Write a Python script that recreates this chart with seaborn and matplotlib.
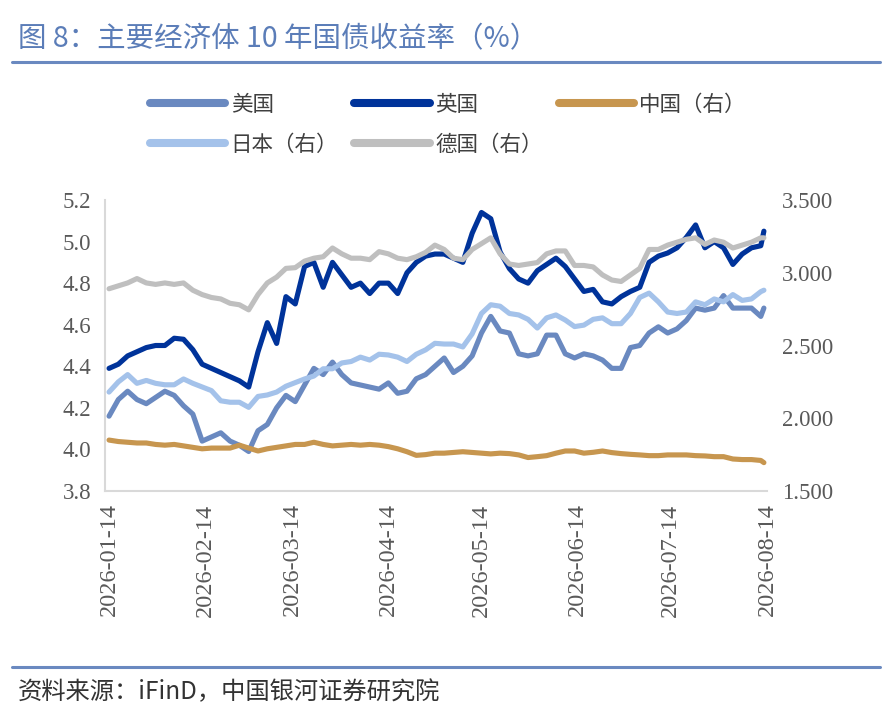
import numpy as np
import pandas as pd
import matplotlib
matplotlib.use("Agg")
import matplotlib.pyplot as plt
import matplotlib.dates as mdates
from matplotlib.lines import Line2D
import seaborn as sns

# ---------------- data ----------------
start_date = "2026-01-14"
day_offsets = list(range(0, 211, 3)) + [211]

us = [4.16, 4.24, 4.28, 4.24, 4.22, 4.25, 4.28, 4.26, 4.21, 4.17,
      4.04, 4.06, 4.08, 4.04, 4.02, 3.99, 4.09, 4.12, 4.20, 4.26,
      4.23, 4.31, 4.39, 4.36, 4.42, 4.36, 4.32, 4.31, 4.30, 4.29,
      4.32, 4.27, 4.28, 4.34, 4.36, 4.40, 4.44, 4.37, 4.40, 4.45,
      4.56, 4.64, 4.57, 4.56, 4.46, 4.45, 4.46, 4.55, 4.55, 4.46,
      4.44, 4.46, 4.45, 4.43, 4.39, 4.39, 4.49, 4.50, 4.56, 4.59,
      4.56, 4.58, 4.62, 4.68, 4.67, 4.68, 4.74, 4.68, 4.68, 4.68,
      4.64, 4.68]

uk = [4.39, 4.41, 4.45, 4.47, 4.49, 4.50, 4.50, 4.535, 4.53, 4.48,
      4.41, 4.39, 4.37, 4.35, 4.33, 4.30, 4.47, 4.61, 4.51, 4.735,
      4.70, 4.88, 4.90, 4.78, 4.90, 4.84, 4.78, 4.80, 4.75, 4.80,
      4.80, 4.75, 4.85, 4.90, 4.93, 4.94, 4.94, 4.92, 4.90, 5.04,
      5.14, 5.11, 4.95, 4.87, 4.82, 4.80, 4.86, 4.89, 4.92, 4.88,
      4.82, 4.76, 4.77, 4.71, 4.70, 4.735, 4.76, 4.78, 4.90, 4.93,
      4.945, 4.97, 5.02, 5.08, 4.97, 5.00, 4.97, 4.89, 4.94, 4.97,
      4.98, 5.05]

china = [1.85, 1.84, 1.835, 1.83, 1.83, 1.82, 1.815, 1.82, 1.81, 1.80,
         1.79, 1.795, 1.795, 1.795, 1.815, 1.795, 1.775, 1.79, 1.80, 1.81,
         1.82, 1.82, 1.835, 1.82, 1.81, 1.815, 1.82, 1.815, 1.82, 1.815,
         1.805, 1.79, 1.77, 1.745, 1.75, 1.76, 1.76, 1.765, 1.77, 1.765,
         1.76, 1.755, 1.76, 1.757, 1.748, 1.73, 1.736, 1.743, 1.76, 1.775,
         1.775, 1.76, 1.766, 1.775, 1.764, 1.757, 1.752, 1.748, 1.743, 1.743,
         1.748, 1.748, 1.748, 1.743, 1.741, 1.736, 1.736, 1.72, 1.716, 1.716,
         1.71, 1.695]

japan = [2.18, 2.25, 2.30, 2.24, 2.26, 2.24, 2.23, 2.23, 2.27, 2.24,
         2.215, 2.19, 2.12, 2.11, 2.11, 2.075, 2.15, 2.16, 2.18, 2.22,
         2.245, 2.27, 2.29, 2.34, 2.34, 2.38, 2.39, 2.42, 2.40, 2.44,
         2.435, 2.42, 2.39, 2.44, 2.47, 2.515, 2.51, 2.51, 2.49, 2.58,
         2.72, 2.78, 2.77, 2.72, 2.71, 2.68, 2.62, 2.69, 2.71, 2.675,
         2.63, 2.64, 2.68, 2.69, 2.65, 2.65, 2.72, 2.83, 2.86, 2.80,
         2.73, 2.72, 2.73, 2.80, 2.78, 2.82, 2.80, 2.85, 2.81, 2.82,
         2.87, 2.88]

germany = [2.89, 2.91, 2.93, 2.96, 2.93, 2.92, 2.93, 2.92, 2.93, 2.88,
           2.85, 2.83, 2.82, 2.79, 2.78, 2.745, 2.85, 2.93, 2.97, 3.03,
           3.035, 3.08, 3.10, 3.11, 3.17, 3.13, 3.10, 3.10, 3.09, 3.145,
           3.13, 3.10, 3.09, 3.11, 3.14, 3.19, 3.16, 3.10, 3.09, 3.16,
           3.20, 3.24, 3.13, 3.06, 3.05, 3.06, 3.07, 3.13, 3.15, 3.15,
           3.05, 3.05, 3.04, 2.985, 2.95, 2.94, 2.985, 3.03, 3.16, 3.16,
           3.19, 3.21, 3.23, 3.24, 3.195, 3.225, 3.21, 3.17, 3.19, 3.21,
           3.24, 3.24]

series_names = ["美国", "英国", "中国（右）", "日本（右）", "德国（右）"]
tick_labels = ["2026-01-14", "2026-02-14", "2026-03-14", "2026-04-14",
               "2026-05-14", "2026-06-14", "2026-07-14", "2026-08-14"]
left_ticks = [3.8, 4.0, 4.2, 4.4, 4.6, 4.8, 5.0, 5.2]
right_ticks = [1.5, 2.0, 2.5, 3.0, 3.5]

title = "图 8：主要经济体 10 年国债收益率（%）"
source = "资料来源：iFinD，中国银河证券研究院"

colors = {"美国": "#6A89C0", "英国": "#00339A", "中国（右）": "#C7964F",
          "日本（右）": "#A4C2EA", "德国（右）": "#BFBFBF"}

# ---------------- build frame ----------------
dates = pd.Timestamp(start_date) + pd.to_timedelta(day_offsets, unit="D")
df = pd.DataFrame({"date": dates, "美国": us, "英国": uk, "中国（右）": china,
                   "日本（右）": japan, "德国（右）": germany})

sns.set_theme(style="white")
plt.rcParams["font.family"] = ["Noto Sans CJK SC", "DejaVu Sans"]

W, H = 894, 726
fig = plt.figure(figsize=(W / 100, H / 100), dpi=100)
ax = fig.add_axes([105 / W, 1 - 491 / H, (767 - 105) / W, (491 - 200) / H])
ax2 = ax.twinx()

LW = 3.7
for name in ["美国", "英国"]:
    sns.lineplot(data=df, x="date", y=name, ax=ax, color=colors[name],
                 linewidth=LW, label=name, legend=False)
for name in ["中国（右）", "日本（右）", "德国（右）"]:
    sns.lineplot(data=df, x="date", y=name, ax=ax2, color=colors[name],
                 linewidth=LW, label=name, legend=False)

# axes limits & ticks
tick_dates = pd.to_datetime(tick_labels)
ax.set_xlim(pd.Timestamp(start_date) - pd.Timedelta(days=1.3), tick_dates[-1])
ax.set_ylim(left_ticks[0], left_ticks[-1])
ax2.set_ylim(right_ticks[0], right_ticks[-1])
ax.set_xticks(tick_dates)
ax.set_xticklabels(tick_labels, rotation=90)
ax.set_yticks(left_ticks)
ax.set_yticklabels([f"{v:.1f}" for v in left_ticks])
ax2.set_yticks(right_ticks)
ax2.set_yticklabels([f"{v:.3f}" for v in right_ticks])
ax.set_xlabel("")
ax.set_ylabel("")
ax2.set_ylabel("")

for lab in ax.get_xticklabels():
    lab.set_fontfamily("Liberation Serif")
    lab.set_fontsize(17.5)
    lab.set_color("#595959")
for lab in ax.get_yticklabels() + ax2.get_yticklabels():
    lab.set_fontfamily("Liberation Serif")
    lab.set_fontsize(16.5)
    lab.set_color("#595959")

ax.tick_params(axis="x", length=0, pad=9)
ax.tick_params(axis="y", length=0, pad=10)
ax2.tick_params(axis="y", length=0, pad=11)
ax.grid(False)
ax2.grid(False)

for sp in ["top", "right"]:
    ax.spines[sp].set_visible(False)
for sp in ax2.spines.values():
    sp.set_visible(False)
for sp in ["left", "bottom"]:
    ax.spines[sp].set_color("#D9D9D9")
    ax.spines[sp].set_linewidth(1.5)

# legend (row 1: 美国 英国 中国; row 2: 日本 德国)
order = ["美国", "日本（右）", "英国", "德国（右）", "中国（右）"]
handles = [Line2D([0], [0], color=colors[n], linewidth=5.8, solid_capstyle="round")
           for n in order]
leg = fig.legend(handles, order, loc="upper left", ncol=3,
                 bbox_to_anchor=(150 / W, 1 - 94 / H), frameon=False,
                 prop={"family": ["Noto Sans CJK SC", "DejaVu Sans"], "size": 15.5},
                 handlelength=3.5, handletextpad=0.25, columnspacing=0.75,
                 labelspacing=0.82, borderpad=0, borderaxespad=0)
for t in leg.get_texts():
    t.set_color("#404040")

# title, rules, source
fig.text(18 / W, 1 - 39 / H, title, va="center", ha="left", fontsize=20.5,
         color="#5B7DB8")
fig.add_artist(Line2D([12 / W, 880 / W], [1 - 62 / H, 1 - 62 / H],
                      color="#6A89C0", linewidth=2.2, transform=fig.transFigure))
fig.add_artist(Line2D([12 / W, 880 / W], [1 - 667 / H, 1 - 667 / H],
                      color="#6A89C0", linewidth=2.2, transform=fig.transFigure))
fig.text(18 / W, 1 - 692 / H, source, va="center", ha="left", fontsize=17.5,
         color="#333333", style="italic")

fig.savefig("out.png", dpi=100)
